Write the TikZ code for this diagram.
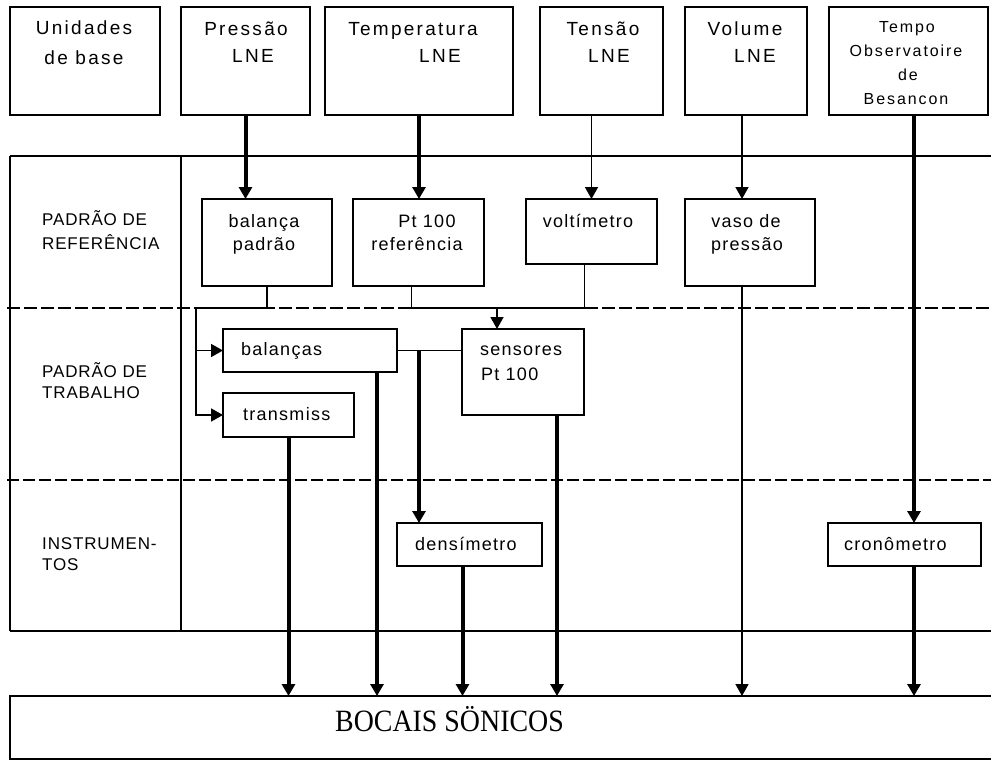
\documentclass[tikz,border=0pt]{standalone}
\usepackage{fontspec}
\setmainfont{Liberation Sans}
\newfontfamily\pixfont{Liberation Sans}[LetterSpace=12]
\newfontfamily\rowfont{Liberation Sans}[LetterSpace=7]
\newfontfamily\levelfont{Liberation Sans}[LetterSpace=5]
\newfontfamily\nozzlefont{Liberation Serif}[FakeStretch=0.9]
\usetikzlibrary{arrows.meta}

\begin{document}
\begin{tikzpicture}[x=1pt,y=-1pt,
  box/.style={draw, line width=1.7pt, inner sep=0pt, outer sep=0pt, anchor=north west},
  thinline/.style={line width=1.7pt},
  thickline/.style={line width=4pt},
  tip/.style={-{Triangle[width=13pt,length=12pt]}},
  thinarrow/.style={thinline, tip},
  thickarrow/.style={thickline, tip},
  toptext/.style={anchor=base, font=\pixfont\fontsize{19}{22}\selectfont, inner sep=0pt},
  tempotext/.style={anchor=base, font=\pixfont\fontsize{16}{19}\selectfont, inner sep=0pt},
  rowtext/.style={anchor=base, font=\rowfont\fontsize{18}{21}\selectfont, inner sep=0pt},
  rowleft/.style={rowtext, anchor=base west},
  leveltext/.style={anchor=base west, font=\levelfont\fontsize{17}{20}\selectfont, inner sep=0pt},
  refdash/.style={line width=2.8pt, dash pattern=on 13pt off 4pt},
  workdash/.style={line width=1.7pt, dash pattern=on 12pt off 4pt}
]
\useasboundingbox (0,0) rectangle (991,760);

% ---- origin boxes ----
\node[box, minimum width=150pt, minimum height=108pt] (unid)  at (10,7)  {};
\node[box, minimum width=129pt, minimum height=108pt] (press) at (181,7) {};
\node[box, minimum width=188pt, minimum height=108pt] (temp)  at (325,7) {};
\node[box, minimum width=123pt, minimum height=108pt] (tens)  at (540,7) {};
\node[box, minimum width=122pt, minimum height=108pt] (vol)   at (685,7) {};
\node[box, minimum width=159pt, minimum height=108pt] (tempo) at (829,7) {};

\node[toptext] (tUnid1) at (84,35) {Unidades};
\node[toptext] (tUnid2) at (84,65) {de base};
\node[toptext] (tPress1) at (246,36) {Pressão};
\node[toptext] (tPress2) at (253,63) {LNE};
\node[toptext] (tTemp1) at (413,36) {Temperatura};
\node[toptext] (tTemp2) at (440,63) {LNE};
\node[toptext] (tTens1) at (603,36) {Tensão};
\node[toptext] (tTens2) at (609,63) {LNE};
\node[toptext] (tVol1) at (745,36) {Volume};
\node[toptext] (tVol2) at (755,63) {LNE};
\node[tempotext] (tTempo1) at (907,33) {Tempo};
\node[tempotext] (tTempo2) at (906,57) {Observatoire};
\node[tempotext] (tTempo3) at (908,81) {de};
\node[tempotext] (tTempo4) at (906,104) {Besancon};

% ---- level table ----
\draw[thinline] (10,156) -- (1000,156);
\draw[thinline] (10,631) -- (1000,631);
\draw[thinline] (10,156) -- (10,631);
\draw[thinline] (181,156) -- (181,631);
\draw[refdash] (7,308) -- (995,308);
\draw[workdash] (7,480) -- (995,480);

\node[leveltext] (lRef1) at (42,225) {PADRÃO DE};
\node[leveltext] (lRef2) at (42,249) {REFERÊNCIA};
\node[leveltext] (lTrab1) at (42,377) {PADRÃO DE};
\node[leveltext] (lTrab2) at (42,398) {TRABALHO};
\node[leveltext] (lInst1) at (42,549) {INSTRUMEN-};
\node[leveltext] (lInst2) at (42,570) {TOS};

% ---- reference standards ----
\node[box, minimum width=130pt, minimum height=87pt] (balp)  at (202,199) {};
\node[box, minimum width=131pt, minimum height=87pt] (ptref) at (353,199) {};
\node[box, minimum width=131pt, minimum height=65pt] (volt)  at (526,199) {};
\node[box, minimum width=130pt, minimum height=87pt] (vaso)  at (685,199) {};

\node[rowtext] (tBalp1) at (264,227) {balança};
\node[rowtext] (tBalp2) at (264,250) {padrão};
\node[rowtext] (tPt1) at (427,227) {Pt 100};
\node[rowtext] (tPt2) at (417,250) {referência};
\node[rowtext] (tVolt) at (588,227) {voltímetro};
\node[rowtext] (tVaso1) at (746,227) {vaso de};
\node[rowtext] (tVaso2) at (747,250) {pressão};

% ---- working standards ----
\node[box, minimum width=174pt, minimum height=43pt] (bal)   at (223,329) {};
\node[box, minimum width=131pt, minimum height=44pt] (trans) at (223,393) {};
\node[box, minimum width=122pt, minimum height=86pt] (sens)  at (462,329) {};

\node[rowleft] (tBal) at (241,355) {balanças};
\node[rowleft] (tTrans) at (243,420) {transmiss};
\node[rowleft] (tSens1) at (480,355) {sensores};
\node[rowleft] (tSens2) at (481,380) {Pt 100};

% ---- instruments ----
\node[box, minimum width=145pt, minimum height=43pt] (dens)  at (397,523) {};
\node[box, minimum width=153pt, minimum height=43pt] (crono) at (828,523) {};

\node[rowleft] (tDens) at (415,550) {densímetro};
\node[rowleft] (tCrono) at (844,550) {cronômetro};

% ---- sonic nozzles ----
\node[box, minimum width=1000pt, minimum height=63pt] (boc) at (10,696) {};
\node[anchor=base west, inner sep=0pt, font=\nozzlefont\fontsize{31}{36}\selectfont] (tBoc) at (335,731) {BOCAIS SÖNICOS};

% ---- traceability links ----
\coordinate (bus) at (0,308);
\coordinate (split) at (196,308);
\coordinate (ptout) at ([xshift=-7pt]ptref.south);
\coordinate (voltout) at ([xshift=-7pt]volt.south);
\coordinate (sensin) at ([xshift=-26pt]sens.north);
\coordinate (vasoline) at ([xshift=-8pt]vaso.north);
\coordinate (tempoline) at ([xshift=9.5pt]crono.north);

\draw[thickarrow] (press.south) -- (press.south |- balp.north);
\draw[thickarrow] (temp.south) -- (temp.south |- ptref.north);
\draw[thinarrow] (volt.north |- tens.south) -- (volt.north);
\draw[thinarrow] (vasoline |- vol.south) -- (vasoline);
\draw[thickarrow] (tempoline |- tempo.south) -- (tempoline);

\draw[thinline] (balp.south) |- (split);
\draw[thinarrow] (split) |- (trans.west);
\draw[thinarrow] (split |- bal.west) -- (bal.west);

\draw[thinline] (ptout) -- (ptout |- bus) -- (voltout |- bus) -- (voltout);
\draw[thinarrow] (sensin |- bus) -- (sensin);

\draw[thinline] (bal.east) -- (bal.east -| sens.west);
\draw[thickarrow] (temp.south |- bal.east) -- (temp.south |- dens.north);

\draw[thickarrow] (trans.south) -- (trans.south |- boc.north);
\draw[thickarrow] ([xshift=67pt]bal.south) -- ([xshift=67pt]bal.south |- boc.north);
\draw[thickarrow] ([xshift=-7pt]dens.south) -- ([xshift=-7pt]dens.south |- boc.north);
\draw[thickarrow] ([xshift=34pt]sens.south) -- ([xshift=34pt]sens.south |- boc.north);
\draw[thinarrow] (vasoline |- vaso.south) -- (vasoline |- boc.north);
\draw[thickarrow] (tempoline |- crono.south) -- (tempoline |- boc.north);
\end{tikzpicture}
\end{document}
